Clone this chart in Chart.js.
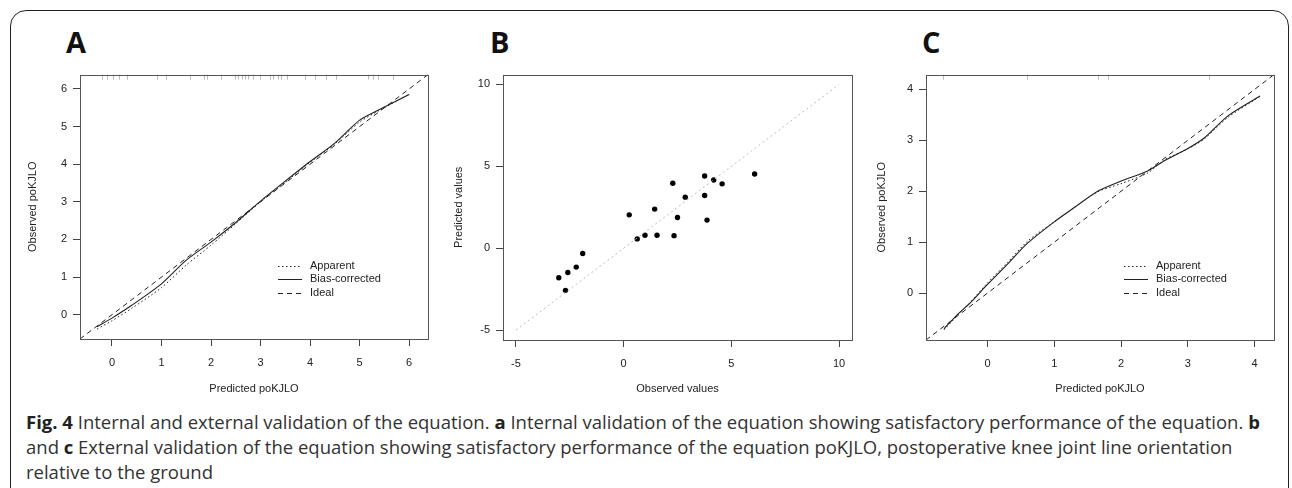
<!DOCTYPE html>
<html>
<head>
<meta charset="utf-8">
<script src="https://cdn.jsdelivr.net/npm/chart.js@4.4.1/dist/chart.umd.min.js"></script>
<style>
  body { margin: 0; background: #fff; }
  #page { position: relative; width: 1292px; height: 488px; overflow: hidden; background: #fff; }
  #frame { position: absolute; left: 10px; top: 10px; width: 1279px; height: 500px;
           border: 1.5px solid #222; border-radius: 16px; box-sizing: border-box; }
  canvas { position: absolute; }
  .lbl { position: absolute; font-family: "Open Sans", sans-serif; font-weight: 700;
         font-size: 29px; line-height: 28px; color: #111; }
  #caption { position: absolute; left: 26px; top: 409px; font-family: "Open Sans", sans-serif;
             font-size: 18.5px; line-height: 25px; color: #333; white-space: nowrap; }
  #caption b { font-weight: 700; color: #222; }
</style>
</head>
<body>
<div id="page">
  <div id="frame"></div>
  <div class="lbl" style="left:66px;top:28px">A</div>
  <div class="lbl" style="left:490px;top:28px">B</div>
  <div class="lbl" style="left:922px;top:28px">C</div>
  <canvas id="chartA" width="412" height="334" style="left:26px;top:62px"></canvas>
  <canvas id="chartB" width="410" height="334" style="left:452px;top:62px"></canvas>
  <canvas id="chartC" width="409" height="334" style="left:875px;top:62px"></canvas>
  <div id="caption">
    <b>Fig. 4</b> Internal and external validation of the equation. <b>a</b> Internal validation of the equation showing satisfactory performance of the equation. <b>b</b><br>
    and <b>c</b> External validation of the equation showing satisfactory performance of the equation poKJLO, postoperative knee joint line orientation<br>
    relative to the ground
  </div>
</div>
<script>
// panel A - internal calibration
const predA = [-0.30, 0.0, 0.4, 1.0, 1.5, 2.0, 2.5, 3.0, 3.5, 4.0, 4.5, 5.0, 5.4, 6.0];
const apparentA = [-0.38, -0.16, 0.17, 0.72, 1.32, 1.85, 2.42, 3.00, 3.52, 4.05, 4.54, 5.12, 5.43, 5.86];
const biasA = [-0.32, -0.09, 0.25, 0.82, 1.45, 1.93, 2.45, 3.02, 3.55, 4.07, 4.56, 5.17, 5.45, 5.85];
const rugA = [-0.21, -0.11, 0.03, 0.15, 0.30, 0.90, 1.09, 1.57, 1.86, 1.91, 2.21, 2.48, 2.55, 2.62,
  2.68, 2.75, 2.85, 2.99, 3.19, 3.26, 3.36, 3.42, 3.53, 3.89, 4.10, 4.33, 4.53, 5.17, 5.27, 5.37, 5.67];
const ticksA = [0, 1, 2, 3, 4, 5, 6];
const rangeA = [-0.645, 6.38];

// panel B - external validation scatter
const obsB = [-3.01, -2.70, -2.59, -2.20, -1.90, 0.26, 0.63, 0.99, 1.44, 1.55, 2.28, 2.34, 2.50, 2.86,
  3.76, 3.76, 3.87, 4.18, 4.57, 6.08];
const predB = [-1.80, -2.57, -1.48, -1.15, -0.32, 2.04, 0.57, 0.79, 2.39, 0.79, 3.97, 0.77, 1.88, 3.12,
  4.41, 3.22, 1.72, 4.17, 3.93, 4.53];
const ticksB = [-5, 0, 5, 10];
const rangeB = [-5.6, 10.6];
const refB = [-5, 10];

// panel C - external calibration
const predC = [-0.65, -0.45, -0.25, 0.0, 0.3, 0.6, 1.0, 1.3, 1.65, 2.0, 2.4, 2.65, 3.0, 3.25, 3.6, 4.08];
const apparentC = [-0.72, -0.44, -0.17, 0.20, 0.60, 1.02, 1.40, 1.68, 1.99, 2.15, 2.36, 2.62, 2.83, 3.03, 3.45, 3.86];
const biasC = [-0.70, -0.42, -0.18, 0.17, 0.57, 0.98, 1.40, 1.68, 2.00, 2.20, 2.40, 2.60, 2.84, 3.05, 3.48, 3.87];
const rugC = [-0.66, 0.59, 1.66, 1.81, 3.31];
const ticksC = [0, 1, 2, 3, 4];
const rangeC = [-0.92, 4.29];

const legendLabels = ['Apparent', 'Bias-corrected', 'Ideal'];

const FONT = { family: 'Liberation Sans, Arial, sans-serif', size: 11 };
const INK = '#222';

const pts = (xs, ys) => xs.map((x, i) => ({ x: x, y: ys[i] }));

const boxPlugin = {
  id: 'box',
  afterDraw(chart) {
    const { ctx, chartArea: a } = chart;
    ctx.save();
    ctx.strokeStyle = '#555';
    ctx.lineWidth = 1;
    ctx.strokeRect(Math.round(a.left) + 0.5, Math.round(a.top) + 0.5,
      Math.round(a.right - a.left), Math.round(a.bottom - a.top));
    ctx.restore();
  }
};

const rugPlugin = {
  id: 'rug',
  afterDatasetsDraw(chart, args, opts) {
    if (!opts.values) return;
    const { ctx, chartArea: a, scales } = chart;
    ctx.save();
    ctx.strokeStyle = opts.color;
    ctx.lineWidth = 1;
    opts.values.forEach(v => {
      const px = Math.round(scales.x.getPixelForValue(v)) + 0.5;
      ctx.beginPath();
      ctx.moveTo(px, a.top);
      ctx.lineTo(px, a.top + 5);
      ctx.stroke();
    });
    ctx.restore();
  }
};

const calLegend = {
  id: 'calLegend',
  afterDraw(chart, args, opts) {
    if (!opts.show) return;
    const { ctx, chartArea: a } = chart;
    const dashes = [[1.5, 2.5], [], [5, 4]];
    ctx.save();
    ctx.font = '11px ' + FONT.family;
    ctx.fillStyle = INK;
    ctx.strokeStyle = INK;
    ctx.lineWidth = 1;
    ctx.textBaseline = 'middle';
    legendLabels.forEach((t, i) => {
      const y = a.top + 191 + i * 13.5;
      ctx.setLineDash(dashes[i]);
      ctx.beginPath();
      ctx.moveTo(a.left + 198, Math.round(y) + 0.5);
      ctx.lineTo(a.left + 222, Math.round(y) + 0.5);
      ctx.stroke();
      ctx.setLineDash([]);
      ctx.fillText(t, a.left + 230, y);
    });
    ctx.restore();
  }
};

function axis(range, ticks, title, fitSize, horizontal) {
  return {
    type: 'linear',
    min: range[0],
    max: range[1],
    afterBuildTicks: s => { s.ticks = ticks.map(v => ({ value: v })); },
    afterFit: s => { if (horizontal) s.height = fitSize; else s.width = fitSize; },
    grid: { drawOnChartArea: false, drawTicks: true, tickLength: 7, color: '#444' },
    border: { display: false },
    ticks: { padding: horizontal ? 10 : 6, font: FONT, color: INK, maxRotation: 0, autoSkip: false },
    title: { display: true, text: title, font: FONT, color: INK, padding: 0 }
  };
}

function makeChart(id, datasets, xs, ys, rug, legend) {
  new Chart(document.getElementById(id), {
    type: 'scatter',
    data: { datasets: datasets },
    options: {
      responsive: false,
      animation: false,
      layout: { padding: { top: 10, right: 10, left: 0, bottom: 0 } },
      scales: { x: xs, y: ys },
      plugins: {
        legend: { display: false },
        tooltip: { enabled: false },
        rug: { values: rug, color: '#bbb' },
        calLegend: { show: legend }
      }
    },
    plugins: [boxPlugin, rugPlugin, calLegend]
  });
}

function calSets(xs, app, bias, range) {
  return [
    { data: pts(range, range), showLine: true, borderColor: INK, borderWidth: 1,
      borderDash: [5, 4], pointRadius: 0 },
    { data: pts(xs, app), showLine: true, borderColor: INK, borderWidth: 1,
      borderDash: [1.5, 2.5], pointRadius: 0, tension: 0.25 },
    { data: pts(xs, bias), showLine: true, borderColor: INK, borderWidth: 1.1,
      pointRadius: 0, tension: 0.25 }
  ];
}

makeChart('chartA', calSets(predA, apparentA, biasA, rangeA),
  axis(rangeA, ticksA, 'Predicted poKJLO', 57, true),
  axis(rangeA, ticksA, 'Observed poKJLO', 54, false), rugA, true);

makeChart('chartB', [
    { data: pts(refB, refB), showLine: true, borderColor: '#bbb', borderWidth: 1,
      borderDash: [2, 3], pointRadius: 0 },
    { data: pts(obsB, predB), pointRadius: 2.7, pointBackgroundColor: '#000',
      pointBorderColor: '#000', pointBorderWidth: 0 }
  ],
  axis(rangeB, ticksB, 'Observed values', 56, true),
  axis(rangeB, ticksB, 'Predicted values', 51, false), null, false);

makeChart('chartC', calSets(predC, apparentC, biasC, rangeC),
  axis(rangeC, ticksC, 'Predicted poKJLO', 56, true),
  axis(rangeC, ticksC, 'Observed poKJLO', 51, false), rugC, true);
</script>
</body>
</html>
